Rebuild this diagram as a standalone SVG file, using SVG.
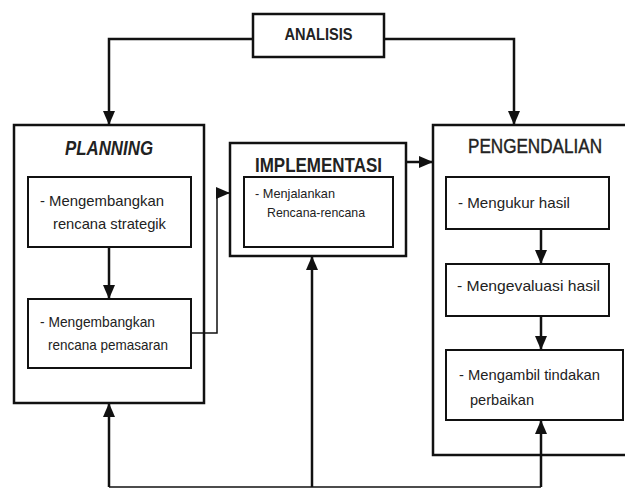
<svg xmlns="http://www.w3.org/2000/svg" width="625" height="488" viewBox="0 0 625 488">
<style>
.outer{fill:#fff;stroke:#111;stroke-width:2.5}
.inner{fill:#fff;stroke:#111;stroke-width:2}
.conn{fill:none;stroke:#111;stroke-width:2.5}
.thin{fill:none;stroke:#111;stroke-width:1.5}
.t{font-family:"Liberation Sans",Arial,sans-serif;fill:#222}
.body{font-size:15px}
.title{font-size:20px}
.bold{font-weight:bold}
</style>
<defs>
<marker id="ah" markerUnits="userSpaceOnUse" markerWidth="15" markerHeight="15" viewBox="0 0 15 15" refX="14" refY="7.5" orient="auto">
<path d="M0,1.5 L14,7.5 L0,13.5 Z" fill="#111"/>
</marker>
</defs>
<rect width="625" height="488" fill="#fff"/>

<g id="analisis">
<rect class="outer" x="253" y="14" width="131" height="43"/>
<text class="t bold" x="318.5" y="40" font-size="16" text-anchor="middle" textLength="68" lengthAdjust="spacingAndGlyphs">ANALISIS</text>
</g>

<g id="planning">
<rect class="outer" x="14" y="125" width="190" height="278"/>
<text class="t bold title" x="109" y="155" font-style="italic" text-anchor="middle" textLength="88" lengthAdjust="spacingAndGlyphs">PLANNING</text>
</g>
<g id="strategik">
<rect class="inner" x="28" y="177" width="163" height="70"/>
<text class="t body" x="40" y="206" textLength="124" lengthAdjust="spacingAndGlyphs">- Mengembangkan</text>
<text class="t body" x="53" y="229" textLength="113" lengthAdjust="spacingAndGlyphs">rencana strategik</text>
</g>
<g id="pemasaran">
<rect class="inner" x="28" y="299" width="163" height="69"/>
<text class="t body" x="40" y="327" textLength="115" lengthAdjust="spacingAndGlyphs">- Mengembangkan</text>
<text class="t body" x="48" y="350" textLength="120" lengthAdjust="spacingAndGlyphs">rencana pemasaran</text>
</g>

<g id="implementasi">
<rect class="outer" x="230" y="143" width="176" height="113"/>
<text class="t bold title" x="318.5" y="172" text-anchor="middle" textLength="127" lengthAdjust="spacingAndGlyphs">IMPLEMENTASI</text>
</g>
<g id="menjalankan">
<rect class="inner" x="244" y="177" width="149" height="70"/>
<text class="t" x="255" y="198" font-size="13.5" textLength="80" lengthAdjust="spacingAndGlyphs">- Menjalankan</text>
<text class="t" x="267" y="217" font-size="13.5" textLength="98" lengthAdjust="spacingAndGlyphs">Rencana-rencana</text>
</g>

<g id="pengendalian">
<rect class="outer" x="433" y="125" width="196" height="330"/>
<text class="t title" x="535" y="153" text-anchor="middle" stroke="#222" stroke-width="0.4" textLength="134" lengthAdjust="spacingAndGlyphs">PENGENDALIAN</text>
</g>
<g id="mengukur">
<rect class="inner" x="446" y="177" width="163" height="52"/>
<text class="t body" x="458" y="208" textLength="112" lengthAdjust="spacingAndGlyphs">- Mengukur hasil</text>
</g>
<g id="mengevaluasi">
<rect class="inner" x="446" y="264" width="163" height="52"/>
<text class="t body" x="457" y="291" textLength="143" lengthAdjust="spacingAndGlyphs">- Mengevaluasi hasil</text>
</g>
<g id="mengambil">
<rect class="inner" x="446" y="350" width="177" height="70"/>
<text class="t body" x="459" y="380" textLength="141" lengthAdjust="spacingAndGlyphs">- Mengambil tindakan</text>
<text class="t body" x="470" y="405" textLength="64" lengthAdjust="spacingAndGlyphs">perbaikan</text>
</g>

<g id="connectors">
<path class="conn" d="M253,39 H109 V125" marker-end="url(#ah)"/>
<path class="conn" d="M384,39 H514 V125" marker-end="url(#ah)"/>
<path class="conn" d="M109,247 V299" marker-end="url(#ah)"/>
<path class="thin" d="M191,333 H217 V193 H230" marker-end="url(#ah)"/>
<path class="conn" d="M406,162 H433" marker-end="url(#ah)"/>
<path class="conn" d="M541,229 V264" marker-end="url(#ah)"/>
<path class="conn" d="M541,316 V350" marker-end="url(#ah)"/>
<path class="thin" d="M109,487 H541" stroke="#777"/>
<path class="conn" d="M109,487 V403" marker-end="url(#ah)"/>
<path class="conn" d="M312,487 V256" marker-end="url(#ah)"/>
<path class="conn" d="M541,487 V420" marker-end="url(#ah)"/>
</g>
</svg>
